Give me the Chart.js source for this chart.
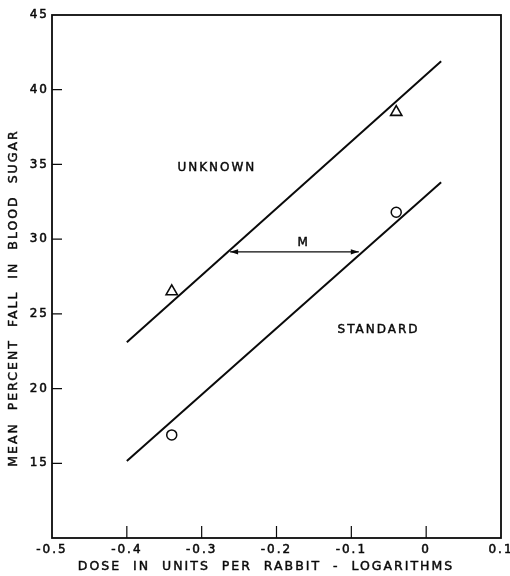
<!DOCTYPE html>
<html>
<head>
<meta charset="utf-8">
<script src="https://cdn.jsdelivr.net/npm/chart.js@4/dist/chart.umd.min.js"></script>
<style>
  html, body { margin: 0; padding: 0; background: #fff; }
</style>
</head>
<body>
<canvas id="chart" width="510" height="576"></canvas>
<script>
// Dose (log units per rabbit) at which each preparation was tested
const doses = [-0.34, -0.04];
// Mean percent fall in blood sugar observed at each dose
const unknownMeans = [26.5, 38.5];
const standardMeans = [16.9, 31.8];

// Fitted parallel response lines (end points)
const fitDoses = [-0.40, 0.02];
const unknownFit = [23.1, 41.9];
const standardFit = [15.15, 33.8];

// Horizontal distance M between the two lines
const mDoses = [-0.262, -0.09];
const mLevel = [29.15, 29.15];

// Axis ticks
const xTickValues = [-0.5, -0.4, -0.3, -0.2, -0.1, 0, 0.1];
const xTickLabels = ['-0.5', '-0.4', '-0.3', '-0.2', '-0.1', '0', '0.1'];
const yTickValues = [10, 15, 20, 25, 30, 35, 40, 45];
const yTickLabels = ['', '15', '20', '25', '30', '35', '40', '45'];

// Text placed inside the plot, in data coordinates
const notes = [
  { text: 'UNKNOWN', x: -0.281, y: 34.75 },
  { text: 'STANDARD', x: -0.065, y: 23.9 },
  { text: 'M', x: -0.165, y: 29.75 }
];

const INK = '#0a0a0a';
const FONT = '12px "DejaVu Sans"';
const TITLE_FONT = '12.5px "DejaVu Sans"';

const toPoints = (xs, ys) => xs.map((x, i) => ({ x: x, y: ys[i] }));

const spacing = {
  id: 'spacing',
  beforeLayout(chart) { chart.ctx.letterSpacing = '2px'; },
  beforeDraw(chart) { chart.ctx.letterSpacing = '2px'; }
};

// filled text with a thin outline for a slightly heavier lettering
function inkText(ctx, text, px, py) {
  ctx.fillText(text, px, py);
  ctx.strokeText(text, px, py);
}

const frame = {
  id: 'frame',
  afterDatasetsDraw(chart) {
    const { ctx, chartArea: a, scales: { x, y } } = chart;
    ctx.save();
    ctx.letterSpacing = '2px';
    ctx.strokeStyle = INK;
    ctx.fillStyle = INK;
    ctx.lineWidth = 1.8;
    ctx.strokeRect(a.left, a.top, a.right - a.left, a.bottom - a.top);

    // inward tick marks
    ctx.lineWidth = 1.2;
    ctx.beginPath();
    xTickValues.slice(1, -1).forEach(v => {
      const px = x.getPixelForValue(v);
      ctx.moveTo(px, a.bottom);
      ctx.lineTo(px, a.bottom - 12);
    });
    yTickValues.slice(1, -1).forEach(v => {
      const py = y.getPixelForValue(v);
      ctx.moveTo(a.left, py);
      ctx.lineTo(a.left + 10, py);
    });
    ctx.stroke();

    // arrow heads on M
    const y0 = y.getPixelForValue(mLevel[0]);
    const xl = x.getPixelForValue(mDoses[0]);
    const xr = x.getPixelForValue(mDoses[1]);
    ctx.beginPath();
    ctx.moveTo(xl, y0); ctx.lineTo(xl + 8, y0 - 2.6); ctx.lineTo(xl + 8, y0 + 2.6); ctx.closePath();
    ctx.moveTo(xr, y0); ctx.lineTo(xr - 8, y0 - 2.6); ctx.lineTo(xr - 8, y0 + 2.6); ctx.closePath();
    ctx.fill();

    // notes
    ctx.lineWidth = 0.45;
    ctx.font = FONT;
    ctx.textAlign = 'center';
    ctx.textBaseline = 'middle';
    notes.forEach(n => {
      inkText(ctx, n.text, x.getPixelForValue(n.x) + 1, y.getPixelForValue(n.y));
    });

    // axis titles
    ctx.font = TITLE_FONT;
    inkText(ctx, 'DOSE  IN  UNITS  PER  RABBIT  -  LOGARITHMS', 266, 567);
    ctx.translate(14, 298);
    ctx.rotate(-Math.PI / 2);
    inkText(ctx, 'MEAN  PERCENT  FALL  IN  BLOOD  SUGAR', 0, 0);
    ctx.restore();
  }
};

const tickFont = { family: 'DejaVu Sans', size: 12 };

new Chart(document.getElementById('chart'), {
  type: 'scatter',
  data: {
    datasets: [
      {
        label: 'Unknown fit', data: toPoints(fitDoses, unknownFit), showLine: true,
        borderColor: INK, borderWidth: 2, pointRadius: 0
      },
      {
        label: 'Standard fit', data: toPoints(fitDoses, standardFit), showLine: true,
        borderColor: INK, borderWidth: 2, pointRadius: 0
      },
      {
        label: 'M', data: toPoints(mDoses, mLevel), showLine: true,
        borderColor: INK, borderWidth: 1.2, pointRadius: 0
      },
      {
        label: 'Unknown', data: toPoints(doses, unknownMeans), showLine: false,
        pointStyle: 'triangle', pointRadius: 6.5, pointBorderWidth: 1.6,
        pointBorderColor: INK, pointBackgroundColor: '#fff'
      },
      {
        label: 'Standard', data: toPoints(doses, standardMeans), showLine: false,
        pointStyle: 'circle', pointRadius: 5, pointBorderWidth: 1.5,
        pointBorderColor: INK, pointBackgroundColor: '#fff'
      }
    ]
  },
  options: {
    responsive: false,
    animation: false,
    events: [],
    layout: { padding: { top: 15, right: 9, left: 0, bottom: 0 } },
    plugins: { legend: { display: false }, tooltip: { enabled: false } },
    scales: {
      x: {
        type: 'linear', min: -0.5, max: 0.1,
        grid: { display: false, drawTicks: false }, border: { display: false },
        afterBuildTicks: s => { s.ticks = xTickValues.map(v => ({ value: v })); },
        afterFit: s => { s.height = 38; s.paddingLeft = 0; s.paddingRight = 0; },
        ticks: {
          callback: (v, i) => xTickLabels[i],
          font: tickFont, color: INK, padding: 5,
          textStrokeColor: INK, textStrokeWidth: 0.5,
          maxRotation: 0, autoSkip: false
        }
      },
      y: {
        type: 'linear', min: 10, max: 45,
        grid: { display: false, drawTicks: false }, border: { display: false },
        afterBuildTicks: s => { s.ticks = yTickValues.map(v => ({ value: v })); },
        afterFit: s => { s.width = 52; s.paddingTop = 0; s.paddingBottom = 0; },
        ticks: {
          callback: (v, i) => yTickLabels[i],
          font: tickFont, color: INK, padding: 3,
          textStrokeColor: INK, textStrokeWidth: 0.5,
          autoSkip: false
        }
      }
    }
  },
  plugins: [spacing, frame]
});
</script>
</body>
</html>
